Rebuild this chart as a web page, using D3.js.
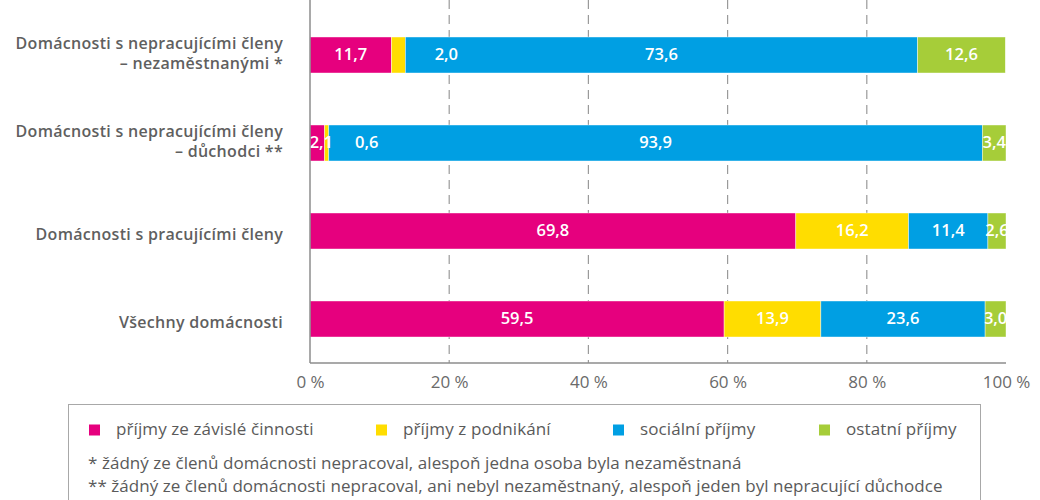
<!DOCTYPE html>
<html>
<head>
<meta charset="utf-8">
<script src="https://cdn.jsdelivr.net/npm/d3@7"></script>
<style>
  body { margin: 0; background: #fff; }
  svg { font-family: "Open Sans", "Noto Sans", sans-serif; }
</style>
</head>
<body>
<svg id="chart" width="1040" height="500"></svg>
<script>
// data
const categories = [
  ["Domácnosti s nepracujícími členy", "– nezaměstnanými *"],
  ["Domácnosti s nepracujícími členy", "– důchodci **"],
  ["Domácnosti s pracujícími členy"],
  ["Všechny domácnosti"]
];
const seriesNames = ["příjmy ze závislé činnosti", "příjmy z podnikání", "sociální příjmy", "ostatní příjmy"];
const zavisle = [11.7, 2.1, 69.8, 59.5];
const podnikani = [2.0, 0.6, 16.2, 13.9];
const socialni = [73.6, 93.9, 11.4, 23.6];
const ostatni = [12.6, 3.4, 2.6, 3.0];
const tickValues = [0, 20, 40, 60, 80, 100];
const notes = [
  "* žádný ze členů domácnosti nepracoval, alespoň jedna osoba byla nezaměstnaná",
  "** žádný ze členů domácnosti nepracoval, ani nebyl nezaměstnaný, alespoň jeden byl nepracující důchodce"
];
const colors = ["#e6007e", "#ffdd00", "#009fe3", "#a6cd39"];

const svg = d3.select("#chart");
const margin = { left: 310, right: 34 };
const width = 1040 - margin.left - margin.right;
const plotH = 363;

const x = d3.scaleLinear().domain([0, 100]).range([margin.left, margin.left + width]);
const y = d3.scaleBand().domain(d3.range(categories.length))
  .range([11, 363]).paddingInner(52 / 88).paddingOuter(26 / 88);

const table = categories.map((c, i) => ({
  idx: i, vals: [zavisle[i], podnikani[i], socialni[i], ostatni[i]]
}));

// grid lines
svg.append("g").selectAll("line")
  .data(tickValues.filter(t => t > 0 && t < 100))
  .join("line")
  .attr("x1", d => x(d)).attr("x2", d => x(d))
  .attr("y1", 0).attr("y2", plotH)
  .attr("stroke", "#9a9a9a").attr("stroke-width", 1.2)
  .attr("stroke-dasharray", "9,6");

const fmt = v => v.toFixed(1).replace(".", ",");
// tiny segments: label moved right of the segment end (px)
const afterEnd = { "0-1": 41, "1-1": 38 };
const nudge = { "1-0": 4 };

table.forEach(row => {
  const g = svg.append("g");
  const segs = [];
  let cum = 0;
  row.vals.forEach((v, k) => { segs.push({ k, v, a: cum, b: cum + v }); cum += v; });

  g.selectAll("rect").data(segs).join("rect")
    .attr("x", d => x(d.a)).attr("y", y(row.idx))
    .attr("width", d => x(d.b) - x(d.a)).attr("height", y.bandwidth())
    .attr("fill", d => colors[d.k])
    .attr("stroke", "#fff").attr("stroke-width", 0.6).attr("stroke-opacity", 0.7);

  g.selectAll("text").data(segs).join("text")
    .attr("x", d => {
      const key = row.idx + "-" + d.k;
      if (key in afterEnd) return x(d.b) + afterEnd[key];
      return (x(d.a) + x(d.b)) / 2 + (nudge[key] || 0);
    })
    .attr("y", y(row.idx) + y.bandwidth() / 2 + 1)
    .attr("text-anchor", "middle").attr("dominant-baseline", "middle")
    .attr("fill", "#fff").attr("font-size", 16.5).attr("font-weight", 600)
    .text(d => fmt(d.v));
});

// category labels
table.forEach(row => {
  const lines = categories[row.idx];
  const cy = y(row.idx) + y.bandwidth() / 2 + (lines.length === 1 ? 5 : 0);
  const t = svg.append("text")
    .attr("text-anchor", "end").attr("fill", "#5f5f5f")
    .attr("font-size", 16).attr("font-weight", 600).attr("letter-spacing", 0.3);
  lines.forEach((ln, j) => {
    t.append("tspan")
      .attr("x", 283)
      .attr("y", cy + (j - (lines.length - 1) / 2) * 20)
      .attr("dominant-baseline", "middle")
      .text(ln);
  });
});

// axes
svg.append("line").attr("x1", x(0)).attr("x2", x(0)).attr("y1", 0).attr("y2", plotH)
  .attr("stroke", "#8c8c8c").attr("stroke-width", 1.5);
svg.append("line").attr("x1", x(0)).attr("x2", x(100)).attr("y1", plotH).attr("y2", plotH)
  .attr("stroke", "#8c8c8c").attr("stroke-width", 1.5);

const xAxis = svg.append("g")
  .attr("transform", `translate(0,${plotH})`)
  .call(d3.axisBottom(x).tickValues(tickValues).tickSize(0).tickPadding(13).tickFormat(d => d + " %"));
xAxis.select(".domain").remove();
xAxis.selectAll("text").attr("fill", "#6a6a6a").attr("font-size", 17)
  .attr("font-family", "'Open Sans', sans-serif");

// legend box
svg.append("rect").attr("x", 68.5).attr("y", 404.5).attr("width", 912).attr("height", 110)
  .attr("fill", "none").attr("stroke", "#a8a8a8").attr("stroke-width", 1);

const legX = [89, 376, 613, 819];
const leg = svg.append("g").selectAll("g").data(seriesNames).join("g")
  .attr("transform", (d, i) => `translate(${legX[i]},430)`);
leg.append("rect").attr("x", 0).attr("y", -5.5).attr("width", 11).attr("height", 11)
  .attr("fill", (d, i) => colors[i]);
leg.append("text").attr("x", 27).attr("y", 0).attr("dominant-baseline", "middle")
  .attr("fill", "#5a5a5a").attr("font-size", 17).attr("letter-spacing", 0.1).text(d => d);

svg.append("g").selectAll("text").data(notes).join("text")
  .attr("x", 88).attr("y", (d, i) => 464 + i * 23)
  .attr("dominant-baseline", "middle")
  .attr("fill", "#5a5a5a").attr("font-size", 17).attr("letter-spacing", 0.05).text(d => d);
</script>
</body>
</html>
